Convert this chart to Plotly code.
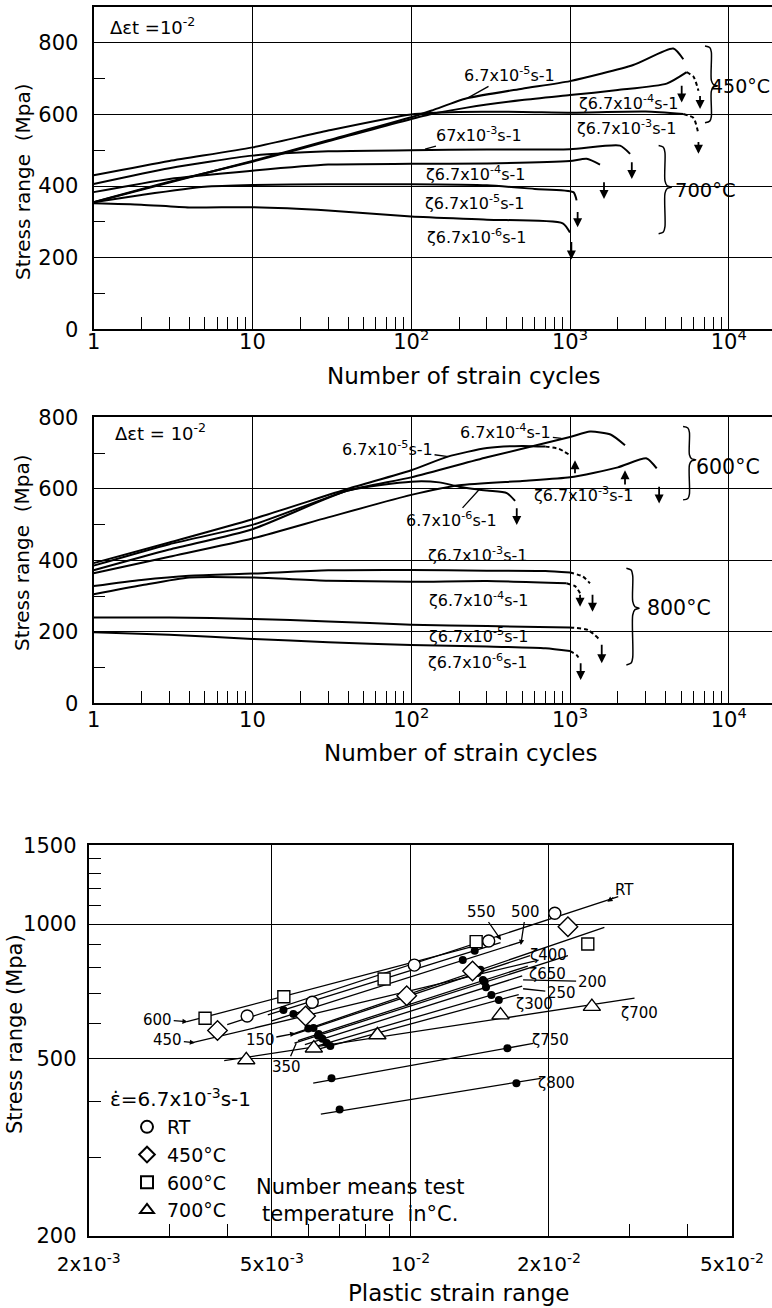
import numpy as np
import plotly.graph_objects as go

FONT = "DejaVu Sans"

# ================= Panel 1 : 450 C and 700 C (delta eps_t = 1e-2) =================
p1_450_r5_N = [1, 3, 10, 30, 100, 137, 224, 500, 1000, 2500, 4470, 5170]
p1_450_r5_S = [355, 410, 470, 528, 592, 612, 645, 672, 693, 738, 784, 754]
p1_450_r4_N = [1, 3, 10, 30, 130, 224, 500, 1000, 2000, 4060, 5430]
p1_450_r4_S = [355, 412, 468, 525, 600, 619, 640, 654, 668, 686, 718]
p1_450_r4_tailN = [5430, 6000, 6440]
p1_450_r4_tailS = [718, 705, 666]
p1_450_r3_N = [1, 3, 10, 30, 100, 200, 500, 1000, 3000, 5180]
p1_450_r3_S = [430, 470, 508, 555, 600, 607, 607, 605, 608, 601]
p1_450_r3_tailN = [5180, 6000, 6440]
p1_450_r3_tailS = [601, 590, 545]
p1_700_r3_N = [1, 3, 10, 30, 100, 300, 1000, 2065, 2390]
p1_700_r3_S = [406, 450, 485, 497, 500, 502, 503, 513, 490]
p1_700_r4_N = [1, 3, 10, 30, 100, 300, 1000, 1273, 1545]
p1_700_r4_S = [383, 420, 443, 460, 462, 463, 470, 476, 460]
p1_700_r5_N = [1, 2, 5, 10, 30, 100, 300, 600, 1050, 1100]
p1_700_r5_S = [355, 375, 398, 403, 405, 405, 402, 392, 383, 360]
p1_700_r6_N = [1, 2, 4, 10, 30, 100, 300, 900, 1000]
p1_700_r6_S = [352, 348, 340, 341, 332, 315, 306, 296, 270]

# failure arrows (N, tail stress, tip stress)
p1_arrow_N = [5050, 6590, 6440, 2450, 1637, 1117, 1020]
p1_arrow_tail = [684, 656, 527, 471, 415, 332, 248]
p1_arrow_tip = [633, 615, 490, 420, 364, 285, 195]

# ================= Panel 2 : 600 C and 800 C =================
p2_600_r5_N = [1, 3, 10, 40, 100, 170, 300, 500, 700]
p2_600_r5_S = [392, 450, 515, 600, 652, 690, 714, 720, 718]
p2_600_r5_tailN = [700, 850, 1000]
p2_600_r5_tailS = [718, 712, 694]
p2_600_r4_N = [1, 3, 10, 40, 100, 300, 1000, 1337, 1800, 2220]
p2_600_r4_S = [385, 445, 499, 595, 632, 688, 745, 760, 752, 722]
p2_600_r3_N = [1, 3, 10, 30, 100, 200, 500, 1000, 2000, 3040, 3515]
p2_600_r3_S = [364, 410, 461, 520, 583, 610, 622, 632, 660, 685, 657]
p2_600_r6_N = [1, 3, 10, 40, 100, 150, 200, 300, 400, 451]
p2_600_r6_S = [372, 430, 487, 595, 620, 618, 606, 595, 588, 566]
p2_800_r3_N = [1, 2, 4, 10, 30, 100, 300, 700, 1000]
p2_800_r3_S = [328, 345, 357, 363, 372, 373, 371, 370, 366]
p2_800_r3_tailN = [1000, 1200, 1336]
p2_800_r3_tailS = [366, 355, 336]
p2_800_r4_N = [1, 2, 4, 10, 30, 100, 300, 950]
p2_800_r4_S = [305, 330, 352, 352, 343, 340, 342, 336]
p2_800_r4_tailN = [950, 1080, 1157]
p2_800_r4_tailS = [336, 327, 308]
p2_800_r5_N = [1, 3, 10, 30, 100, 300, 1000]
p2_800_r5_S = [240, 240, 236, 229, 220, 216, 212]
p2_800_r5_tailN = [1000, 1300, 1545]
p2_800_r5_tailS = [212, 205, 177]
p2_800_r6_N = [1, 3, 10, 30, 100, 300, 700, 1000]
p2_800_r6_S = [199, 192, 180, 171, 163, 159, 154, 146]
p2_800_r6_tailN = [1000, 1100, 1157]
p2_800_r6_tailS = [146, 135, 121]

p2_arrow_N = [1075, 2220, 3640, 462, 1386, 1157, 1584, 1167]
p2_arrow_tail = [639, 608, 610, 550, 308, 308, 168, 116]
p2_arrow_tip = [680, 652, 559, 499, 256, 270, 112, 65]

# ================= Panel 3 : stress range vs plastic strain range =================
rt_e = [4.42e-3, 6.12e-3, 1.02e-2, 1.48e-2, 2.06e-2]
rt_S = [622, 668, 809, 916, 1057]
d450_e = [3.81e-3, 5.92e-3, 9.82e-3, 1.365e-2, 2.20e-2]
d450_S = [577, 622, 691, 785, 986]
s600_e = [3.58e-3, 5.31e-3, 8.77e-3, 1.39e-2, 2.43e-2]
s600_S = [615, 687, 753, 913, 902]
t700_e = [4.40e-3, 6.17e-3, 8.48e-3, 1.57e-2, 2.48e-2]
t700_S = [496, 527, 564, 625, 653]

dot_e = [5.30e-3, 1.38e-2, 5.57e-3, 1.30e-2, 6.16e-3, 1.40e-2, 6.32e-3, 1.438e-2,
         6.44e-3, 1.46e-2, 6.58e-3, 1.50e-2, 6.70e-3, 1.557e-2, 6.0e-3, 1.42e-2,
         6.3e-3, 1.45e-2, 6.74e-3, 1.625e-2, 7.02e-3, 1.70e-2]
dot_S = [642, 871, 629, 831, 585, 777, 567, 749,
         553, 722, 541, 693, 533, 676, 583, 790,
         562, 741, 451, 527, 384, 440]

fit_temp = ["RT", "450", "600", "700", "750", "800", "150", "350", "550", "500", "400", "650", "200", "250", "300"]
fit_e0 = [4.0e-3, 3.36e-3, 3.27e-3, 3.94e-3, 6.15e-3, 6.39e-3, 5.6e-3, 5.6e-3, 4.9e-3, 5.0e-3, 5.5e-3, 5.7e-3, 5.9e-3, 6.0e-3, 6.2e-3]
fit_S0 = [595, 542, 604, 494, 440, 375, 569, 541, 626, 607, 563, 548, 537, 526, 522]
fit_e1 = [2.83e-2, 1.9e-2, 1.45e-2, 3.07e-2, 1.85e-2, 1.92e-2, 2.64e-2, 2.2e-2, 1.57e-2, 1.74e-2, 1.82e-2, 1.80e-2, 1.75e-2, 1.75e-2, 1.72e-2]
fit_S1 = [1151, 830, 905, 682, 540, 451, 983, 850, 908, 912, 850, 805, 765, 726, 695]

# tick labels
p12_xticks = [1, 10, 100, 1000, 10000]
p12_xtext = ["1", "10", "10<sup>2</sup>", "10<sup>3</sup>", "10<sup>4</sup>"]
p3_xticks = [2e-3, 5e-3, 1e-2, 2e-2, 5e-2]
p3_xtext = ["2x10<sup>-3</sup>", "5x10<sup>-3</sup>", "10<sup>-2</sup>", "2x10<sup>-2</sup>", "5x10<sup>-2</sup>"]
p3_yticks = [200, 500, 1000, 1500]

L = np.log10
fig = go.Figure()


def curve(N, S, xa, ya, dash="solid", w=2.0):
    fig.add_trace(go.Scatter(x=N, y=S, xaxis=xa, yaxis=ya, mode="lines",
                             line=dict(color="black", width=w, dash=dash, shape="spline", smoothing=0.6),
                             showlegend=False, hoverinfo="skip"))


def brace(xa, ya, xlog, s_top, s_bot, s_mid, w=0.04):
    h = s_top - s_bot
    px = [xlog - w, xlog - 0.25 * w, xlog, xlog, xlog + 0.35 * w, xlog + w, xlog + 0.35 * w, xlog, xlog, xlog - 0.25 * w, xlog - w]
    py = [s_top, s_top - 0.02 * h, s_top - 0.08 * h, s_mid + 0.07 * h, s_mid + 0.015 * h, s_mid,
          s_mid - 0.015 * h, s_mid - 0.07 * h, s_bot + 0.08 * h, s_bot + 0.02 * h, s_bot]
    fig.add_trace(go.Scatter(x=[10 ** v for v in px], y=py, xaxis=xa, yaxis=ya, mode="lines",
                             line=dict(color="black", width=1.5, shape="spline", smoothing=0.8),
                             showlegend=False, hoverinfo="skip"))


# ---- panel 1 curves
curve(p1_450_r5_N, p1_450_r5_S, "x", "y")
curve(p1_450_r4_N, p1_450_r4_S, "x", "y")
curve(p1_450_r4_tailN, p1_450_r4_tailS, "x", "y", dash="4px,3px")
curve(p1_450_r3_N, p1_450_r3_S, "x", "y")
curve(p1_450_r3_tailN, p1_450_r3_tailS, "x", "y", dash="4px,3px")
curve(p1_700_r3_N, p1_700_r3_S, "x", "y")
curve(p1_700_r4_N, p1_700_r4_S, "x", "y")
curve(p1_700_r5_N, p1_700_r5_S, "x", "y")
curve(p1_700_r6_N, p1_700_r6_S, "x", "y")
brace("x", "y", 3.89, 791, 577, 680)
brace("x", "y", 3.598, 513, 267, 397)

# ---- panel 2 curves
curve(p2_600_r5_N, p2_600_r5_S, "x2", "y2")
curve(p2_600_r5_tailN, p2_600_r5_tailS, "x2", "y2", dash="4px,3px")
curve(p2_600_r4_N, p2_600_r4_S, "x2", "y2")
curve(p2_600_r3_N, p2_600_r3_S, "x2", "y2")
curve(p2_600_r6_N, p2_600_r6_S, "x2", "y2")
curve(p2_800_r3_N, p2_800_r3_S, "x2", "y2")
curve(p2_800_r3_tailN, p2_800_r3_tailS, "x2", "y2", dash="4px,3px")
curve(p2_800_r4_N, p2_800_r4_S, "x2", "y2")
curve(p2_800_r4_tailN, p2_800_r4_tailS, "x2", "y2", dash="4px,3px")
curve(p2_800_r5_N, p2_800_r5_S, "x2", "y2")
curve(p2_800_r5_tailN, p2_800_r5_tailS, "x2", "y2", dash="4px,3px")
curve(p2_800_r6_N, p2_800_r6_S, "x2", "y2")
curve(p2_800_r6_tailN, p2_800_r6_tailS, "x2", "y2", dash="4px,3px")
brace("x2", "y2", 3.752, 774, 569, 681)
brace("x2", "y2", 3.395, 378, 107, 266)

# ---- panel 3 fit lines
for i in range(len(fit_temp)):
    fig.add_trace(go.Scatter(x=[fit_e0[i], fit_e1[i]], y=[fit_S0[i], fit_S1[i]], xaxis="x3", yaxis="y3",
                             mode="lines", line=dict(color="black", width=1.3),
                             showlegend=False, hoverinfo="skip"))
fig.add_trace(go.Scatter(x=dot_e, y=dot_S, xaxis="x3", yaxis="y3", mode="markers",
                         marker=dict(symbol="circle", size=8, color="black"),
                         showlegend=False, hoverinfo="skip"))
mk_line = dict(color="black", width=1.4)
fig.add_trace(go.Scatter(x=rt_e, y=rt_S, xaxis="x3", yaxis="y3", mode="markers", name="RT",
                         marker=dict(symbol="circle", size=12, color="white", line=mk_line)))
fig.add_trace(go.Scatter(x=d450_e, y=d450_S, xaxis="x3", yaxis="y3", mode="markers", name="450°C",
                         marker=dict(symbol="diamond", size=15, color="white", line=mk_line)))
fig.add_trace(go.Scatter(x=s600_e, y=s600_S, xaxis="x3", yaxis="y3", mode="markers", name="600°C",
                         marker=dict(symbol="square", size=12, color="white", line=mk_line)))
fig.add_trace(go.Scatter(x=t700_e, y=t700_S, xaxis="x3", yaxis="y3", mode="markers", name="700°C",
                         marker=dict(symbol="triangle-up", size=15, color="white", line=mk_line)))

# ---------------- annotations ----------------
anns = []


def txt(xr, yr, x, y, text, size=16, xanchor="center", yanchor="middle", **kw):
    d = dict(xref=xr, yref=yr, x=x, y=y, text=text, showarrow=False,
             font=dict(family=FONT, size=size, color="black"), xanchor=xanchor, yanchor=yanchor)
    d.update(kw)
    anns.append(d)


def leader(xr, yr, x, y, ax, ay, text, size=16, head=0):
    anns.append(dict(xref=xr, yref=yr, x=x, y=y, ax=ax, ay=ay, axref=xr, ayref=yr, text=text,
                     showarrow=True, arrowhead=head, arrowsize=0.8, arrowwidth=1.3, arrowcolor="black",
                     standoff=0, font=dict(family=FONT, size=size, color="black")))


def farrow(xr, yr, N, tail, tip):
    anns.append(dict(xref=xr, yref=yr, x=L(N), y=tip, ax=L(N), ay=tail, axref=xr, ayref=yr, text="",
                     showarrow=True, arrowhead=2, arrowsize=1.0, arrowwidth=1.8, arrowcolor="black", standoff=0))


for N, a, b in zip(p1_arrow_N, p1_arrow_tail, p1_arrow_tip):
    farrow("x", "y", N, a, b)
for N, a, b in zip(p2_arrow_N, p2_arrow_tail, p2_arrow_tip):
    farrow("x2", "y2", N, a, b)

sm = "s-1"
# panel 1 labels
txt("x", "y", 0.09, 846, "Δεt =10<sup>-2</sup>", size=18, xanchor="left")
leader("x", "y", 2.36, 647, 2.622, 712, "6.7x10<sup>-5</sup>" + sm)
txt("x", "y", 3.366, 633, "ζ6.7x10<sup>-4</sup>" + sm)
txt("x", "y", 3.357, 564, "ζ6.7x10<sup>-3</sup>" + sm)
leader("x", "y", 2.087, 503, 2.427, 545, "67x10<sup>-3</sup>" + sm)
txt("x", "y", 2.402, 434, "ζ6.7x10<sup>-4</sup>" + sm)
txt("x", "y", 2.396, 355, "ζ6.7x10<sup>-5</sup>" + sm)
txt("x", "y", 2.412, 258, "ζ6.7x10<sup>-6</sup>" + sm)
txt("paper", "y", 1.0, 680, "450°C", size=19, xanchor="right")
txt("x", "y", 3.649, 388, "700°C", size=19.5, xanchor="left")

# panel 2 labels
txt("x2", "y2", 0.124, 760, "Δεt = 10<sup>-2</sup>", size=18, xanchor="left")
leader("x2", "y2", 2.233, 690, 1.851, 713, "6.7x10<sup>-5</sup>" + sm)
leader("x2", "y2", 2.946, 741, 2.596, 760, "6.7x10<sup>-4</sup>" + sm)
leader("x2", "y2", 2.434, 601, 2.255, 513, "6.7x10<sup>-6</sup>" + sm)
txt("x2", "y2", 3.085, 583, "ζ6.7x10<sup>-3</sup>" + sm)
txt("x2", "y2", 2.419, 417, "ζ6.7x10<sup>-3</sup>" + sm)
txt("x2", "y2", 2.425, 289, "ζ6.7x10<sup>-4</sup>" + sm)
txt("x2", "y2", 2.425, 191, "ζ6.7x10<sup>-5</sup>" + sm)
txt("x2", "y2", 2.42, 117, "ζ6.7x10<sup>-6</sup>" + sm)
txt("x2", "y2", 3.783, 662, "600°C", size=20.5, xanchor="left")
txt("x2", "y2", 3.473, 266, "800°C", size=20.5, xanchor="left")

# panel 3 labels
leader("x3", "y3", -1.572, 3.050, -1.535, 3.076, "RT", size=15, head=2)
leader("x3", "y3", -1.803, 2.964, -1.846, 3.028, "550", size=15, head=2)
leader("x3", "y3", -1.760, 2.953, -1.749, 3.028, "500", size=15, head=2)
txt("x3", "y3", -1.699, 2.931, "ζ400", size=15)
txt("x3", "y3", -1.703, 2.889, "ζ650", size=15)
leader("x3", "y3", -1.755, 2.875, -1.605, 2.871, "200", size=15)
leader("x3", "y3", -1.755, 2.855, -1.672, 2.846, "250", size=15)
txt("x3", "y3", -1.730, 2.821, "ζ300", size=15)
txt("x3", "y3", -1.503, 2.800, "ζ700", size=15)
txt("x3", "y3", -1.696, 2.740, "ζ750", size=15)
txt("x3", "y3", -1.683, 2.643, "ζ800", size=15)
leader("x3", "y3", -2.484, 2.781, -2.549, 2.786, "600", size=15, head=2)
leader("x3", "y3", -2.468, 2.734, -2.527, 2.740, "450", size=15, head=2)
leader("x3", "y3", -2.250, 2.755, -2.326, 2.740, "150", size=15, head=2)
leader("x3", "y3", -2.248, 2.733, -2.270, 2.680, "350", size=15)

# axis titles and legend header (paper coordinates)
txt("paper", "paper", 23 / 772, 1 - 182 / 1308, "Stress range  (Mpa)", size=20, textangle=-90)
txt("paper", "paper", 463 / 772, 1 - 376 / 1308, "Number of strain cycles", size=23)
txt("paper", "paper", 22 / 772, 1 - 553 / 1308, "Stress range  (Mpa)", size=20, textangle=-90)
txt("paper", "paper", 460 / 772, 1 - 753 / 1308, "Number of strain cycles", size=23)
txt("paper", "paper", 15 / 772, 1 - 1034 / 1308, "Stress range (Mpa)", size=21, textangle=-90)
txt("paper", "paper", 458 / 772, 1 - 1293 / 1308, "Plastic strain range", size=23)
txt("paper", "paper", 108 / 772, 1 - 1098 / 1308, "ε̇=6.7x10<sup>-3</sup>s-1", size=20, xanchor="left")
txt("paper", "paper", 360 / 772, 1 - 1200 / 1308, "Number means test<br>temperature  in°C.", size=21)

# ---------------- axes ----------------
AX = dict(showline=True, linecolor="black", linewidth=2, gridcolor="black", gridwidth=1.2,
          zeroline=False, tickfont=dict(family=FONT, size=21, color="black"),
          ticks="", ticklabelstandoff=9, automargin=False)


def minor_log(lo, hi):
    return [k * 10 ** d for d in range(-4, 6) for k in range(2, 10) if lo < k * 10 ** d < hi]


x1 = dict(AX, type="log", range=[0, 4.272], domain=[93.6 / 772, 1], tickvals=p12_xticks, ticktext=p12_xtext,
          showgrid=True, mirror=True, ticklabelstandoff=-8,
          minor=dict(tickmode="array", tickvals=minor_log(1, 18700), ticks="inside", ticklen=12,
                     tickwidth=1.2, tickcolor="black", showgrid=False))
x2 = dict(x1, ticklabelstandoff=-4)
y1 = dict(AX, range=[0, 900], domain=[1 - 329.3 / 1308, 1 - 7 / 1308], tickvals=[0, 200, 400, 600, 800],
          showgrid=True,
          minor=dict(tickmode="array", tickvals=[100, 300, 500, 700], ticks="inside", ticklen=11,
                     tickwidth=1.2, tickcolor="black", showgrid=False))
y2 = dict(AX, range=[0, 800], domain=[1 - 703.3 / 1308, 1 - 417.3 / 1308], tickvals=[0, 200, 400, 600, 800],
          showgrid=True,
          minor=dict(tickmode="array", tickvals=[100, 300, 500, 700], ticks="inside", ticklen=11,
                     tickwidth=1.2, tickcolor="black", showgrid=False))
x3 = dict(AX, type="log", range=[L(2e-3), L(5e-2)], domain=[88.7 / 772, 732 / 772], tickvals=p3_xticks,
          ticktext=p3_xtext, showgrid=True, mirror=True, tickfont=dict(family=FONT, size=20, color="black"),
          minor=dict(tickmode="array", tickvals=minor_log(2e-3, 5e-2), ticks="inside", ticklen=12,
                     tickwidth=1.2, tickcolor="black", showgrid=False))
y3 = dict(AX, type="log", range=[L(200), L(1500)], domain=[1 - 1236 / 1308, 1 - 845.4 / 1308],
          tickvals=p3_yticks, showgrid=True, mirror=True, ticklabelstandoff=6,
          minor=dict(tickmode="array", tickvals=[300, 400, 600, 700, 800, 900, 1100, 1200, 1300, 1400],
                     ticks="inside", ticklen=12, tickwidth=1.2, tickcolor="black", showgrid=False))

fig.update_layout(
    width=772, height=1308, margin=dict(l=0, r=0, t=0, b=0, autoexpand=False),
    paper_bgcolor="white", plot_bgcolor="white",
    xaxis=dict(x1, anchor="y"), yaxis=dict(y1, anchor="x"),
    xaxis2=dict(x2, anchor="y2"), yaxis2=dict(y2, anchor="x2"),
    xaxis3=dict(x3, anchor="y3"), yaxis3=dict(y3, anchor="x3"),
    annotations=anns,
    showlegend=True,
    legend=dict(x=127 / 772, y=1 - 1108 / 1308, xanchor="left", yanchor="top",
                bgcolor="rgba(0,0,0,0)", font=dict(family=FONT, size=19, color="black"),
                itemsizing="constant", tracegroupgap=0),
)

fig.write_html("out.html", config={"displayModeBar": False},
               post_script="document.body.style.margin='0px';")
